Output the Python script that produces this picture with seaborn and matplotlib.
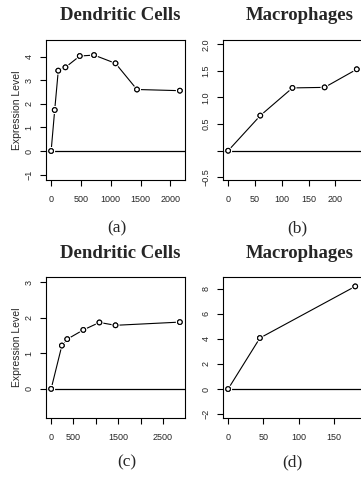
import matplotlib
matplotlib.use("Agg")
import matplotlib.pyplot as plt
import matplotlib.patheffects as pe
import seaborn as sns
import pandas as pd

# data
dc_a_time = [0, 60, 120, 240, 480, 720, 1080, 1440, 2160]
dc_a_expr = [0, 1.74, 3.41, 3.55, 4.03, 4.07, 3.72, 2.61, 2.56]

mac_b_time = [0, 60, 120, 180, 240]
mac_b_expr = [0, 0.66, 1.18, 1.19, 1.53]

dc_c_time = [0, 240, 360, 720, 1080, 1440, 2880]
dc_c_expr = [0, 1.22, 1.40, 1.66, 1.87, 1.79, 1.88]

mac_d_time = [0, 45, 180]
mac_d_expr = [0, 4.07, 8.19]

panel_titles = ["Dendritic Cells", "Macrophages", "Dendritic Cells", "Macrophages"]
panel_letters = ["(a)", "(b)", "(c)", "(d)"]

sns.set_style("ticks")
plt.rcParams["font.family"] = ["Liberation Sans", "DejaVu Sans"]

W, H = 361, 480
fig = plt.figure(figsize=(W / 100, H / 100), dpi=100)


def box(l, r, t, b):
    return [l / W, (H - b) / H, (r - l) / W, (b - t) / H]


def draw_panel(ax, x, y, xlim, ylim, xticks, xlabels, yticks, ylabels, ylab=False):
    df = pd.DataFrame({"time": x, "expr": y})
    ax.axhline(0, color="black", lw=0.9, zorder=1)
    sns.lineplot(data=df, x="time", y="expr", ax=ax, color="black", lw=0.8, zorder=2)
    sns.scatterplot(data=df, x="time", y="expr", ax=ax, s=11, facecolor="white",
                    edgecolor="black", linewidth=0.8, zorder=3,
                    path_effects=[pe.withStroke(linewidth=2.5, foreground="white"), pe.Normal()])
    ax.set_xlim(*xlim)
    ax.set_ylim(*ylim)
    ax.set_xticks(xticks)
    ax.set_xticklabels(xlabels)
    ax.set_yticks(yticks)
    ax.set_yticklabels(ylabels, rotation=90, va="center")
    ax.tick_params(axis="both", length=4, width=0.8, labelsize=6.5, color="black")
    ax.tick_params(axis="x", pad=7)
    ax.tick_params(axis="y", pad=5)
    for s in ax.spines.values():
        s.set_visible(True)
        s.set_linewidth(0.8)
        s.set_color("black")
    ax.set_xlabel("")
    if ylab:
        ax.set_ylabel("Expression Level", fontsize=7.5)
        ax.yaxis.set_label_coords(-0.17, 0.5)
    else:
        ax.set_ylabel("")


ax_a = fig.add_axes(box(46, 185, 40, 180))
draw_panel(ax_a, dc_a_time, dc_a_expr, (-86, 2246), (-1.23, 4.71),
           [0, 500, 1000, 1500, 2000], ["0", "500", "1000", "1500", "2000"],
           [-1, 0, 1, 2, 3, 4], ["\u22121", "0", "1", "2", "3", "4"], ylab=True)

ax_b = fig.add_axes(box(223, 364, 40, 180))
draw_panel(ax_b, mac_b_time, mac_b_expr, (-9.6, 253.5), (-0.55, 2.08),
           [0, 50, 100, 150, 200], ["0", "50", "100", "150", "200"],
           [-0.5, 0, 0.5, 1.0, 1.5, 2.0], ["\u22120.5", "", "0.5", "1.0", "1.5", "2.0"])

ax_c = fig.add_axes(box(46, 185, 277, 418))
draw_panel(ax_c, dc_c_time, dc_c_expr, (-115, 2995), (-0.82, 3.15),
           [0, 500, 1000, 1500, 2000, 2500], ["0", "500", "", "1500", "", "2500"],
           [0, 1, 2, 3], ["0", "1", "2", "3"], ylab=True)

ax_d = fig.add_axes(box(223, 364, 277, 418))
draw_panel(ax_d, mac_d_time, mac_d_expr, (-7.2, 192.4), (-2.31, 8.94),
           [0, 50, 100, 150], ["0", "50", "100", "150"],
           [-2, 0, 2, 4, 6, 8], ["\u22122", "0", "2", "4", "6", "8"])

title_pos = [(120.5, 15), (299.5, 15), (120.5, 254), (299.5, 254)]
letter_pos = [(117, 228), (297, 228), (127, 462), (292, 462)]
for t, (x, y) in zip(panel_titles, title_pos):
    fig.text(x / W, 1 - y / H, t, ha="center", va="center", fontsize=13.5,
             fontweight="bold", family="Liberation Serif")
for t, (x, y) in zip(panel_letters, letter_pos):
    fig.text(x / W, 1 - y / H, t, ha="center", va="center", fontsize=12.5,
             family="Liberation Serif")

fig.savefig("out.png", dpi=100)
